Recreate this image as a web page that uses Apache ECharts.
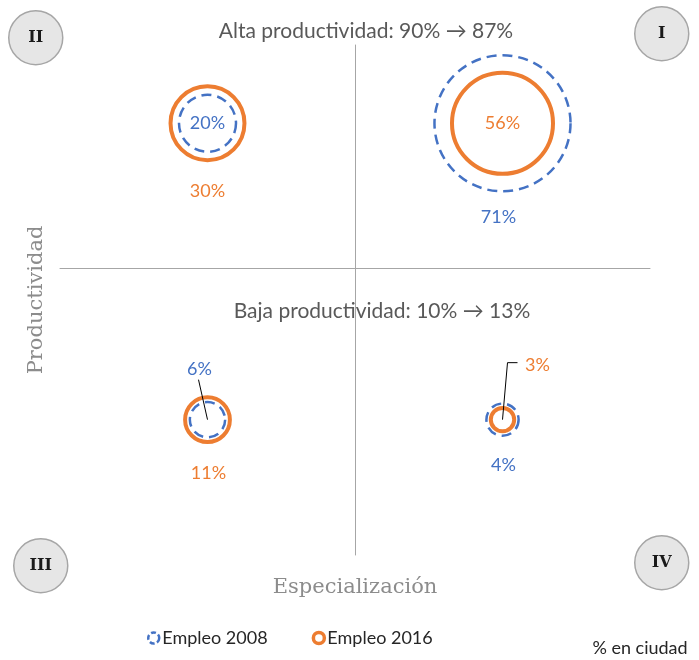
<!DOCTYPE html>
<html>
<head>
<meta charset="utf-8">
<script src="https://cdn.jsdelivr.net/npm/echarts@6/dist/echarts.min.js"></script>
<style>
  html, body { margin: 0; padding: 0; background: #fff; }
  #chart { width: 699px; height: 660px; }
</style>
</head>
<body>
<div id="chart"></div>
<script>
// cuadrantes y posición de cada burbuja
const quadrants = ['II', 'I', 'III', 'IV']
const specializacion = [-0.5, 0.5, -0.5, 0.5]
const productividad = [0.65, 0.65, -0.675, -0.675]
// % del empleo en la ciudad
const empleo2008 = [20, 71, 6, 4]
const empleo2016 = [30, 56, 11, 3]
const seriesNames = ['Empleo 2008', 'Empleo 2016']

const BLUE = '#4472c4'
const ORANGE = '#ed7d31'
const FONT = 'Lato, "Open Sans", sans-serif'
const SERIF = '"DejaVu Serif", "Liberation Serif", serif'

// desplazamiento de etiquetas (px) por cuadrante
const labelOffset2008 = { II: [0, 0], I: [-4, 94], III: [-8, -50], IV: [1, 46] }
const labelOffset2016 = { II: [0, 68], I: [0, 0], III: [1, 54], IV: [35, -54] }
// líneas guía (px relativos al centro)
const leaders = {
  III: [[-9, -40], [0, 0]],
  IV: [[0, 0], [5, -57], [15, -57]]
}

// diámetro de la burbuja según el valor (el anillo 2008 queda por fuera)
const size2008 = v => 26 + 1.55 * v
const size2016 = v => 13.5 * Math.sqrt(v)

function buildData(values, offsets, color) {
  return values.map((v, i) => ({
    value: [specializacion[i], productividad[i], v],
    label: { offset: offsets[quadrants[i]], color: color }
  }))
}

const chart = echarts.init(document.getElementById('chart'))

const quadBadges = [
  { text: 'II', x: 35, y: 37 },
  { text: 'I', x: 661, y: 33 },
  { text: 'III', x: 40, y: 565 },
  { text: 'IV', x: 661, y: 562 }
]

chart.setOption({
  animation: false,
  grid: { left: 60, right: 49, top: 45, bottom: 105 },
  xAxis: {
    type: 'value', min: -1, max: 1,
    axisLine: { onZero: true, lineStyle: { color: '#a6a6a6', width: 1 } },
    axisTick: { show: false }, axisLabel: { show: false }, splitLine: { show: false }
  },
  yAxis: {
    type: 'value', min: -1.28, max: 1,
    axisLine: { onZero: true, lineStyle: { color: '#a6a6a6', width: 1 } },
    axisTick: { show: false }, axisLabel: { show: false }, splitLine: { show: false }
  },
  legend: {
    data: [
      { name: seriesNames[0], itemStyle: { color: 'transparent', borderColor: BLUE, borderWidth: 2.5, borderType: [5, 2.5], opacity: 1 } },
      { name: seriesNames[1], itemStyle: { color: 'transparent', borderColor: ORANGE, borderWidth: 3.5, opacity: 1 } }
    ],
    left: 142, top: 624,
    icon: 'circle', itemWidth: 11, itemHeight: 11, itemGap: 44,
    textStyle: { fontFamily: FONT, fontSize: 18, color: '#262626', padding: [0, 0, 0, -2] }
  },
  graphic: [
    ...quadBadges.map(b => ({
      type: 'group', left: b.x - 27, top: b.y - 27,
      children: [
        { type: 'circle', shape: { cx: 27, cy: 27, r: 27 }, style: { fill: '#e6e6e6', stroke: '#a6a6a6', lineWidth: 1.5 } },
        { type: 'text', x: 27, y: 27, style: { text: b.text, fill: '#1a1a1a', font: 'bold 16px ' + SERIF, align: 'center', verticalAlign: 'middle' } }
      ]
    })),
    { type: 'text', x: 366, y: 31, style: { text: 'Alta productividad: 90% → 87%', fill: '#595959', font: '21px ' + FONT, align: 'center', verticalAlign: 'middle' } },
    { type: 'text', x: 382, y: 311, style: { text: 'Baja productividad: 10% → 13%', fill: '#595959', font: '21px ' + FONT, align: 'center', verticalAlign: 'middle' } },
    { type: 'text', x: 640, y: 648, style: { text: '% en ciudad', fill: '#262626', font: '18px ' + FONT, align: 'center', verticalAlign: 'middle' } },
    { type: 'text', x: 355, y: 588, style: { text: 'Especialización', fill: '#8c8c8c', font: '21px ' + SERIF, align: 'center', verticalAlign: 'middle' } },
    { type: 'text', x: 37, y: 300, rotation: Math.PI / 2, style: { text: 'Productividad', fill: '#8c8c8c', font: '21px ' + SERIF, align: 'center', verticalAlign: 'middle' } }
  ],
  series: [
    {
      name: seriesNames[0], type: 'scatter', z: 2,
      data: buildData(empleo2008, labelOffset2008, BLUE),
      symbolSize: d => size2008(d[2]),
      itemStyle: { color: 'transparent', borderColor: BLUE, borderWidth: 2.5, borderType: [10, 6], opacity: 1 },
      label: { show: true, position: 'inside', formatter: p => p.value[2] + '%', fontFamily: FONT, fontSize: 18 }
    },
    {
      name: seriesNames[1], type: 'scatter', z: 3,
      data: buildData(empleo2016, labelOffset2016, ORANGE),
      symbolSize: d => size2016(d[2]),
      itemStyle: { color: 'transparent', borderColor: ORANGE, borderWidth: 4, opacity: 1 },
      label: { show: true, position: 'inside', formatter: p => p.value[2] + '%', fontFamily: FONT, fontSize: 18 }
    },
    {
      type: 'custom', name: 'guias', z: 4, silent: true,
      data: quadrants.map((q, i) => [specializacion[i], productividad[i], i]),
      renderItem: (params, api) => {
        const pts = leaders[quadrants[api.value(2)]]
        if (!pts) return null
        const c = api.coord([api.value(0), api.value(1)])
        return {
          type: 'polyline',
          shape: { points: pts.map(p => [c[0] + p[0], c[1] + p[1]]) },
          style: { stroke: '#000', lineWidth: 1, fill: null }
        }
      }
    }
  ]
})
</script>
</body>
</html>
